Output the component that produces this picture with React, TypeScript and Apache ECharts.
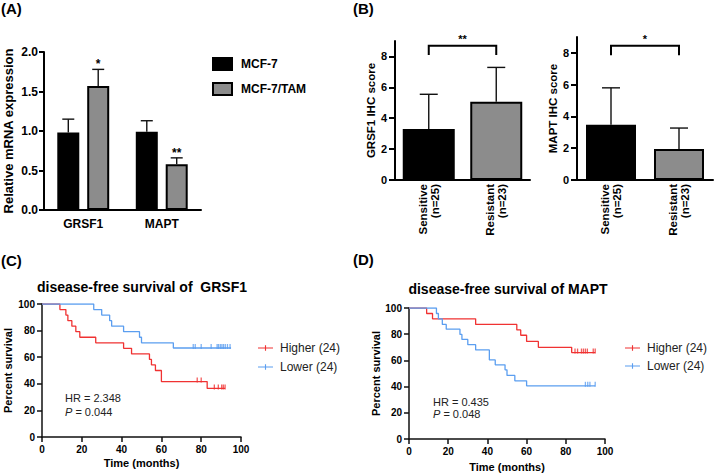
import React, { useEffect, useRef } from 'react';
import * as echarts from 'echarts';

const FONT = '"Liberation Sans", Arial, Helvetica, sans-serif';

// ---------- Panel A : qPCR ----------
const qpcrGenes = ['GRSF1', 'MAPT'];
const mcf7Mean = [0.98, 0.99];
const mcf7Sd = [0.17, 0.14];
const tamMean = [1.57, 0.58];
const tamSd = [0.21, 0.08];
const tamSig = ['*', '**'];
const qpcrSeriesNames = ['MCF-7', 'MCF-7/TAM'];

// ---------- Panel B : IHC ----------
const ihcGroups = ['Sensitive\n(n=25)', 'Resistant\n(n=23)'];
const ihcColors = ['#000000', '#8c8c8c'];
const grsf1IhcMean = [3.3, 5.07];
const grsf1IhcSd = [2.25, 2.22];
const maptIhcMean = [3.47, 1.95];
const maptIhcSd = [2.33, 1.32];
const ihcTicks = [0, 2, 4, 6, 8];
const grsf1Bracket = [8.1, 8.7]; // leg end, top
const maptBracket = [7.85, 8.45];
const grsf1IhcSig = '**';
const maptIhcSig = '*';

// ---------- Panels C / D : Kaplan-Meier ----------
const kmLegend = ['Higher (24)', 'Lower (24)'];
const grsf1HighEvents: number[][] = [[9, 95.8], [12, 91.7], [13, 87.5], [15, 83.3], [17, 79.2], [19, 75], [27, 70.8], [41, 66.7], [45, 62.5], [54, 58.3], [55, 54.2], [57, 50], [60, 41.7], [83, 36.5]];
const grsf1HighCensor = [78, 80, 86.6, 88.6, 90.3, 91.1, 92];
const grsf1HighEnd = 92;
const grsf1LowEvents: number[][] = [[26, 95.8], [30, 91.7], [34, 87.5], [35, 83.3], [41, 79.2], [49, 75], [50, 70.8], [66, 66.9]];
const grsf1LowCensor = [76, 77, 80, 85, 88, 88.7, 89.6, 90.4, 91.2, 92.1, 93.2, 94.5];
const grsf1LowEnd = 95;
const maptHighEvents: number[][] = [[9, 95.8], [12, 91.7], [34, 87.5], [55, 83.3], [57, 79.2], [60, 74.5], [66, 70], [83, 66]];
const maptHighCensor = [84.7, 86, 88, 89, 90, 91, 94, 95];
const maptHighEnd = 95;
const maptLowEvents: number[][] = [[14, 95.8], [15, 91.7], [17, 87.5], [19, 83.8], [26, 79.8], [27, 76], [30, 72], [34, 68], [41, 60.4], [44, 56.6], [49, 52.8], [50, 48.5], [54, 44.4], [60, 40.6]];
const maptLowCensor = [90, 91.2, 92.3, 95];
const maptLowEnd = 95;

const RED = '#f03232';
const BLUE = '#5b9ef0';

function survivalAt(events: number[][], t: number) {
  let s = 100;
  for (const [et, es] of events) if (et <= t) s = es;
  return s;
}

function kmSeries(name: string, xi: number, events: number[][], end: number, censor: number[], color: string) {
  const pts = [[0, 100], ...events, [end, events[events.length - 1][1]]];
  return [
    {
      type: 'line', name, xAxisIndex: xi, yAxisIndex: xi, data: pts, step: 'end',
      symbol: 'none', showSymbol: false, lineStyle: { color, width: 1.3 }, itemStyle: { color }, z: 3,
    },
    {
      type: 'scatter', name: name + ' censored', xAxisIndex: xi, yAxisIndex: xi,
      data: censor.map((t) => [t, survivalAt(events, t)]),
      symbol: 'rect', symbolSize: [1.3, 5], symbolOffset: [0, -1.5], itemStyle: { color }, z: 4,
    },
  ];
}

function errorSeries(xi: number, means: number[], sds: number[], offset: number, capHalf: number, sig: string[] | null, sigSize: number) {
  return {
    type: 'custom', xAxisIndex: xi, yAxisIndex: xi, z: 5, silent: true,
    data: means.map((m, i) => [i, m, m + sds[i]]),
    renderItem: (params: any, api: any) => {
      const i = api.value(0);
      const p0 = api.coord([i, api.value(1)]);
      const p1 = api.coord([i, api.value(2)]);
      const cx = p0[0] + offset;
      const stroke = '#111';
      const children: any[] = [
        { type: 'line', shape: { x1: cx, y1: p0[1], x2: cx, y2: p1[1] }, style: { stroke, lineWidth: 1.4 } },
        { type: 'line', shape: { x1: cx - capHalf, y1: p1[1], x2: cx + capHalf, y2: p1[1] }, style: { stroke, lineWidth: 1.4 } },
      ];
      const s = sig ? sig[params.dataIndex] : '';
      if (s) {
        children.push({
          type: 'text',
          style: { text: s, x: cx, y: p1[1] + 1, align: 'center', verticalAlign: 'bottom', fontSize: sigSize, fontFamily: FONT, fontWeight: 'bold', fill: '#000' },
        });
      }
      return { type: 'group', children };
    },
  };
}

function bracketSeries(xi: number, bracket: number[], label: string) {
  return {
    type: 'custom', xAxisIndex: xi, yAxisIndex: xi, z: 5, silent: true,
    data: [[0, bracket[0], 1, bracket[1]]],
    renderItem: (params: any, api: any) => {
      const a = api.coord([api.value(0), api.value(1)]);
      const b = api.coord([api.value(0), api.value(3)]);
      const c = api.coord([api.value(2), api.value(3)]);
      const d = api.coord([api.value(2), api.value(1)]);
      return {
        type: 'group',
        children: [
          { type: 'polyline', shape: { points: [a, b, c, d] }, style: { stroke: '#000', lineWidth: 2, fill: null } },
          {
            type: 'text',
            style: { text: label, x: (b[0] + c[0]) / 2, y: b[1] - 1, align: 'center', verticalAlign: 'bottom', fontSize: 11, fontFamily: FONT, fontWeight: 'bold', fill: '#000' },
          },
        ],
      };
    },
  };
}

const BAR_W_A = 22;
const BAR_GAP_A = 0.36;
const offA = (BAR_W_A * (1 + BAR_GAP_A)) / 2;

function buildOption(): any {
  const blackLine = { lineStyle: { color: '#000', width: 2 } };
  const kmLine = { lineStyle: { color: '#111', width: 1.5 } };
  const boldLabel = (size: number, margin: number) => ({ color: '#000', fontWeight: 'bold', fontSize: size, fontFamily: FONT, margin });

  const ihcXAxis = (gi: number) => ({
    gridIndex: gi, type: 'category', data: ihcGroups,
    axisLine: blackLine,
    axisTick: { alignWithLabel: true, inside: true, length: 7, lineStyle: { color: '#222', width: 2 } },
    axisLabel: { ...boldLabel(11.5, 4), rotate: 90, lineHeight: 12 },
  });
  const ihcYAxis = (gi: number, name: string, gap: number) => ({
    gridIndex: gi, type: 'value', min: 0, max: 9, interval: 1,
    name, nameLocation: 'middle', nameGap: gap,
    nameTextStyle: { color: '#000', fontWeight: 'bold', fontSize: 11.5, fontFamily: FONT },
    axisLine: { show: true, ...blackLine },
    axisTick: { show: true, length: 6, customValues: ihcTicks, lineStyle: { color: '#000', width: 2 } },
    axisLabel: { ...boldLabel(11, 8), customValues: ihcTicks },
    splitLine: { show: false },
  });
  const kmXAxis = (gi: number, gap: number) => ({
    gridIndex: gi, type: 'value', min: 0, max: 100, interval: 20,
    name: 'Time (months)', nameLocation: 'middle', nameGap: gap,
    nameTextStyle: { color: '#000', fontWeight: 'bold', fontSize: 11, fontFamily: FONT },
    axisLine: kmLine, axisTick: { length: 5, lineStyle: { color: '#111', width: 1.5 } },
    axisLabel: boldLabel(10, 7), splitLine: { show: false },
  });
  const kmYAxis = (gi: number, gap: number) => ({
    gridIndex: gi, type: 'value', min: 0, max: 100, interval: 20,
    name: 'Percent survival', nameLocation: 'middle', nameGap: gap,
    nameTextStyle: { color: '#000', fontWeight: 'bold', fontSize: 11, fontFamily: FONT },
    axisLine: { show: true, ...kmLine }, axisTick: { show: true, length: 5, lineStyle: { color: '#111', width: 1.5 } },
    axisLabel: boldLabel(10, 7), splitLine: { show: false },
  });

  const kmIcon = 'path://M0,3.4L16,3.4L16,4.6L0,4.6Z M7.4,1L8.6,1L8.6,7L7.4,7Z';
  const kmLegendCfg = (left: number, top: number, gap: number) => ({
    orient: 'vertical', left, top, padding: 0, itemGap: gap, itemWidth: 15, itemHeight: 7,
    icon: kmIcon, data: kmLegend, selectedMode: false,
    textStyle: { fontSize: 12, color: '#222', fontFamily: FONT, padding: [0, 0, 0, 2] },
  });

  const txt = (text: string, x: number, y: number, size: number, weight: string, align = 'left', extra: any = {}) => ({
    type: 'text', x, y, silent: true,
    style: { text, align, verticalAlign: 'middle', fontSize: size, fontWeight: weight, fontFamily: FONT, fill: '#000', ...extra },
  });
  const pText = (val: string, x: number, y: number) => ({
    type: 'text', x, y, silent: true,
    style: {
      text: '{i|P} = ' + val, align: 'left', verticalAlign: 'middle', fontSize: 11, fontFamily: FONT, fill: '#222',
      rich: { i: { fontStyle: 'italic', fontSize: 11, fontFamily: FONT, fill: '#222' } },
    },
  });

  return {
    animation: false,
    backgroundColor: '#fff',
    textStyle: { fontFamily: FONT },
    grid: [
      { left: 44, top: 52, width: 157, height: 158 },
      { left: 395, top: 41, width: 135, height: 139 },
      { left: 577, top: 37, width: 136, height: 143 },
      { left: 42, top: 304, width: 199, height: 133 },
      { left: 409, top: 308, width: 196, height: 131 },
    ],
    xAxis: [
      {
        gridIndex: 0, type: 'category', data: qpcrGenes,
        axisLine: blackLine,
        axisTick: { alignWithLabel: true, length: 5, lineStyle: { color: '#000', width: 2 } },
        axisLabel: boldLabel(12, 8),
      },
      ihcXAxis(1),
      ihcXAxis(2),
      kmXAxis(3, 20),
      kmXAxis(4, 22),
    ],
    yAxis: [
      {
        gridIndex: 0, type: 'value', min: 0, max: 2, interval: 0.5,
        name: 'Relative mRNA expression', nameLocation: 'middle', nameGap: 29,
        nameTextStyle: { color: '#000', fontWeight: 'bold', fontSize: 13, fontFamily: FONT },
        axisLine: { show: true, ...blackLine },
        axisTick: { show: true, length: 5, lineStyle: { color: '#000', width: 2 } },
        axisLabel: { ...boldLabel(12, 6), formatter: (v: number) => v.toFixed(1) },
        splitLine: { show: false },
      },
      ihcYAxis(1, 'GRSF1 IHC score', 15),
      ihcYAxis(2, 'MAPT IHC score', 17),
      kmYAxis(3, 29),
      kmYAxis(4, 27),
    ],
    legend: [
      {
        orient: 'vertical', left: 212, top: 57, padding: 0, itemGap: 11, itemWidth: 19, itemHeight: 12,
        icon: 'rect', data: qpcrSeriesNames, selectedMode: false,
        textStyle: { fontSize: 12, fontWeight: 'bold', color: '#000', fontFamily: FONT, padding: [0, 0, 0, 4] },
      },
      kmLegendCfg(258, 342, 7),
      kmLegendCfg(625, 342, 6),
    ],
    graphic: [
      txt('(A)', 1, 8, 15, 'bold'),
      txt('(B)', 353, 8, 15, 'bold'),
      txt('(C)', 1, 260, 15, 'bold'),
      txt('(D)', 353, 259, 15, 'bold'),
      txt('disease-free survival of  GRSF1', 142, 287, 14, 'bold', 'center'),
      txt('disease-free survival of MAPT', 508, 289, 14, 'bold', 'center'),
      txt('HR = 2.348', 65, 398, 11, 'normal', 'left', { fill: '#222' }),
      pText('0.044', 65, 412),
      txt('HR = 0.435', 433, 402, 11, 'normal', 'left', { fill: '#222' }),
      pText('0.048', 433, 414),
    ],
    series: [
      {
        type: 'bar', name: qpcrSeriesNames[0], xAxisIndex: 0, yAxisIndex: 0, data: mcf7Mean,
        barWidth: BAR_W_A, barGap: BAR_GAP_A * 100 + '%',
        itemStyle: { color: '#000', borderColor: '#000', borderWidth: 2 },
      },
      {
        type: 'bar', name: qpcrSeriesNames[1], xAxisIndex: 0, yAxisIndex: 0, data: tamMean,
        barWidth: BAR_W_A, barGap: BAR_GAP_A * 100 + '%',
        itemStyle: { color: '#8c8c8c', borderColor: '#000', borderWidth: 2 },
      },
      errorSeries(0, mcf7Mean, mcf7Sd, -offA, 6, null, 12),
      errorSeries(0, tamMean, tamSd, offA, 6, tamSig, 12),
      {
        type: 'bar', name: 'GRSF1 IHC', xAxisIndex: 1, yAxisIndex: 1, barWidth: 52,
        data: grsf1IhcMean.map((v, i) => ({ value: v, itemStyle: { color: ihcColors[i], borderColor: '#000', borderWidth: 2 } })),
      },
      errorSeries(1, grsf1IhcMean, grsf1IhcSd, 0, 9, null, 11),
      bracketSeries(1, grsf1Bracket, grsf1IhcSig),
      {
        type: 'bar', name: 'MAPT IHC', xAxisIndex: 2, yAxisIndex: 2, barWidth: 50,
        data: maptIhcMean.map((v, i) => ({ value: v, itemStyle: { color: ihcColors[i], borderColor: '#000', borderWidth: 2 } })),
      },
      errorSeries(2, maptIhcMean, maptIhcSd, 0, 9, null, 11),
      bracketSeries(2, maptBracket, maptIhcSig),
      ...kmSeries(kmLegend[0], 3, grsf1HighEvents, grsf1HighEnd, grsf1HighCensor, RED),
      ...kmSeries(kmLegend[1], 3, grsf1LowEvents, grsf1LowEnd, grsf1LowCensor, BLUE),
      ...kmSeries(kmLegend[0], 4, maptHighEvents, maptHighEnd, maptHighCensor, RED),
      ...kmSeries(kmLegend[1], 4, maptLowEvents, maptLowEnd, maptLowCensor, BLUE),
    ],
  };
}

export default function App() {
  const ref = useRef<HTMLDivElement>(null);
  useEffect(() => {
    if (!ref.current) return;
    const chart = echarts.init(ref.current, null, { renderer: 'svg' });
    chart.setOption(buildOption());
    return () => chart.dispose();
  }, []);
  return <div ref={ref} style={{ position: 'fixed', left: 0, top: 0, width: 720, height: 473, background: '#fff' }} />;
}
